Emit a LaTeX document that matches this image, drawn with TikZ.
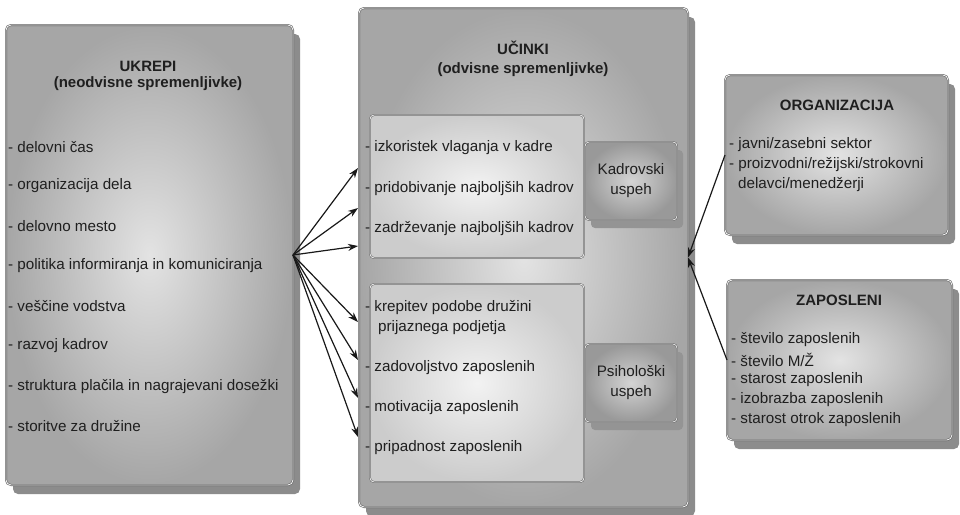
\documentclass[tikz,border=0pt]{standalone}
\usepackage{fontspec}
\setmainfont{Liberation Sans}
\usetikzlibrary{shadows,arrows.meta}
\begin{document}
\begin{tikzpicture}[x=1pt,y=-1pt,
  panel/.style={rectangle, rounded corners=5pt, draw=black!62, double=black!6,
    double distance=0.9pt, line width=0.55pt, inner sep=0pt, outer sep=0pt,
    inner color=black!11, outer color=black!35,
    drop shadow={shadow xshift=7pt, shadow yshift=-9pt, fill=black!45, opacity=1}},
  inbox/.style={rectangle, rounded corners=4pt, draw=black!62, double=black!5,
    double distance=0.8pt, line width=0.5pt, inner sep=0pt, outer sep=0pt,
    inner color=black!5, outer color=black!20},
  succ/.style={rectangle, rounded corners=4pt, draw=black!62, double=black!8,
    double distance=0.8pt, line width=0.5pt, inner sep=0pt, outer sep=0pt,
    inner color=black!17, outer color=black!40, align=center,
    font=\fontsize{15.2}{20}\selectfont, text=black!88,
    drop shadow={shadow xshift=6pt, shadow yshift=-8pt, fill=black!42, opacity=1}},
  txt/.style={anchor=west, inner sep=0pt, font=\fontsize{15.2}{17}\selectfont, text=black!88},
  ttl/.style={anchor=center, inner sep=0pt, font=\bfseries\fontsize{15}{17}\selectfont, text=black!88},
  arr/.style={-{Stealth[length=10pt,width=7pt]}, line width=1.2pt, draw=black!90}
]
\useasboundingbox (0,0) rectangle (960,514);
\fill[white] (0,0) rectangle (960,514);

% main panels
\node[panel, minimum width=287pt, minimum height=460pt] (ukrepi) at (149.5,255) {};
\node[panel, minimum width=329pt, minimum height=499pt] (ucinki) at (523.5,257.5) {};
\node[panel, minimum width=223pt, minimum height=160pt] (org) at (836.5,155) {};
\node[panel, minimum width=225pt, minimum height=160pt] (zap) at (839.5,360) {};

% inner boxes
\node[inbox, minimum width=214pt, minimum height=143pt] (kbox) at (477,186.5) {};
\node[inbox, minimum width=214pt, minimum height=198pt] (pbox) at (477,383) {};
\node[succ, minimum width=92pt, minimum height=78pt] (kad) at (631,181) {Kadrovski\\uspeh};
\node[succ, minimum width=92pt, minimum height=78pt] (psi) at (631,383) {Psihološki\\uspeh};

% left panel text
\node[ttl] (t-ukrepi) at (148,66) {UKREPI};
\node[ttl] (t-neod) at (148,84) {(neodvisne spremenljivke)};
\node[txt] (u1) at (8,147) {- delovni čas};
\node[txt] (u2) at (8,186) {- organizacija dela};
\node[txt] (u3) at (8,226) {- delovno mesto};
\node[txt] (u4) at (8,266) {- politika informiranja in komuniciranja};
\node[txt] (u5) at (8,306) {- veščine vodstva};
\node[txt] (u6) at (8,346) {- razvoj kadrov};
\node[txt] (u7) at (8,387) {- struktura plačila in nagrajevani dosežki};
\node[txt] (u8) at (8,426) {- storitve za družine};

% middle panel text
\node[ttl] (t-ucinki) at (523,48) {UČINKI};
\node[ttl] (t-odv) at (523,70) {(odvisne spremenljivke)};
\node[txt] (c1) at (365,148) {- izkoristek vlaganja v kadre};
\node[txt] (c2) at (365,189) {- pridobivanje najboljših kadrov};
\node[txt] (c3) at (365,229) {- zadrževanje najboljših kadrov};
\node[txt] (c4) at (365,308) {- krepitev podobe družini};
\node[txt] (c4b) at (378,328) {prijaznega podjetja};
\node[txt] (c5) at (365,368) {- zadovoljstvo zaposlenih};
\node[txt] (c6) at (365,408) {- motivacija zaposlenih};
\node[txt] (c7) at (365,448) {- pripadnost zaposlenih};

% right panels text
\node[ttl] (t-org) at (837,105) {ORGANIZACIJA};
\node[txt] (o1) at (729,145) {- javni/zasebni sektor};
\node[txt] (o2) at (729,165) {- proizvodni/režijski/strokovni};
\node[txt] (o3) at (738,185) {delavci/menedžerji};
\node[ttl] (t-zap) at (839,300) {ZAPOSLENI};
\node[txt] (z1) at (731,340) {- število zaposlenih};
\node[txt] (z2) at (731,360) {- število M/Ž};
\node[txt] (z3) at (731,380) {- starost zaposlenih};
\node[txt] (z4) at (731,400) {- izobrazba zaposlenih};
\node[txt] (z5) at (731,420) {- starost otrok zaposlenih};

% arrow targets on the left edge of the middle panel
\coordinate (a1) at (358,168);
\coordinate (a2) at (358,208);
\coordinate (a3) at (358,246);
\coordinate (a4) at (358,322);
\coordinate (a5) at (358,360);
\coordinate (a6) at (358,398);
\coordinate (a7) at (358,437);
\foreach \i in {1,...,7} { \draw[arr] (ukrepi.east) -- (a\i); }

\draw[arr] (org.west) -- (ucinki.east);
\draw[arr] (zap.west) -- (ucinki.east);
\end{tikzpicture}
\end{document}
